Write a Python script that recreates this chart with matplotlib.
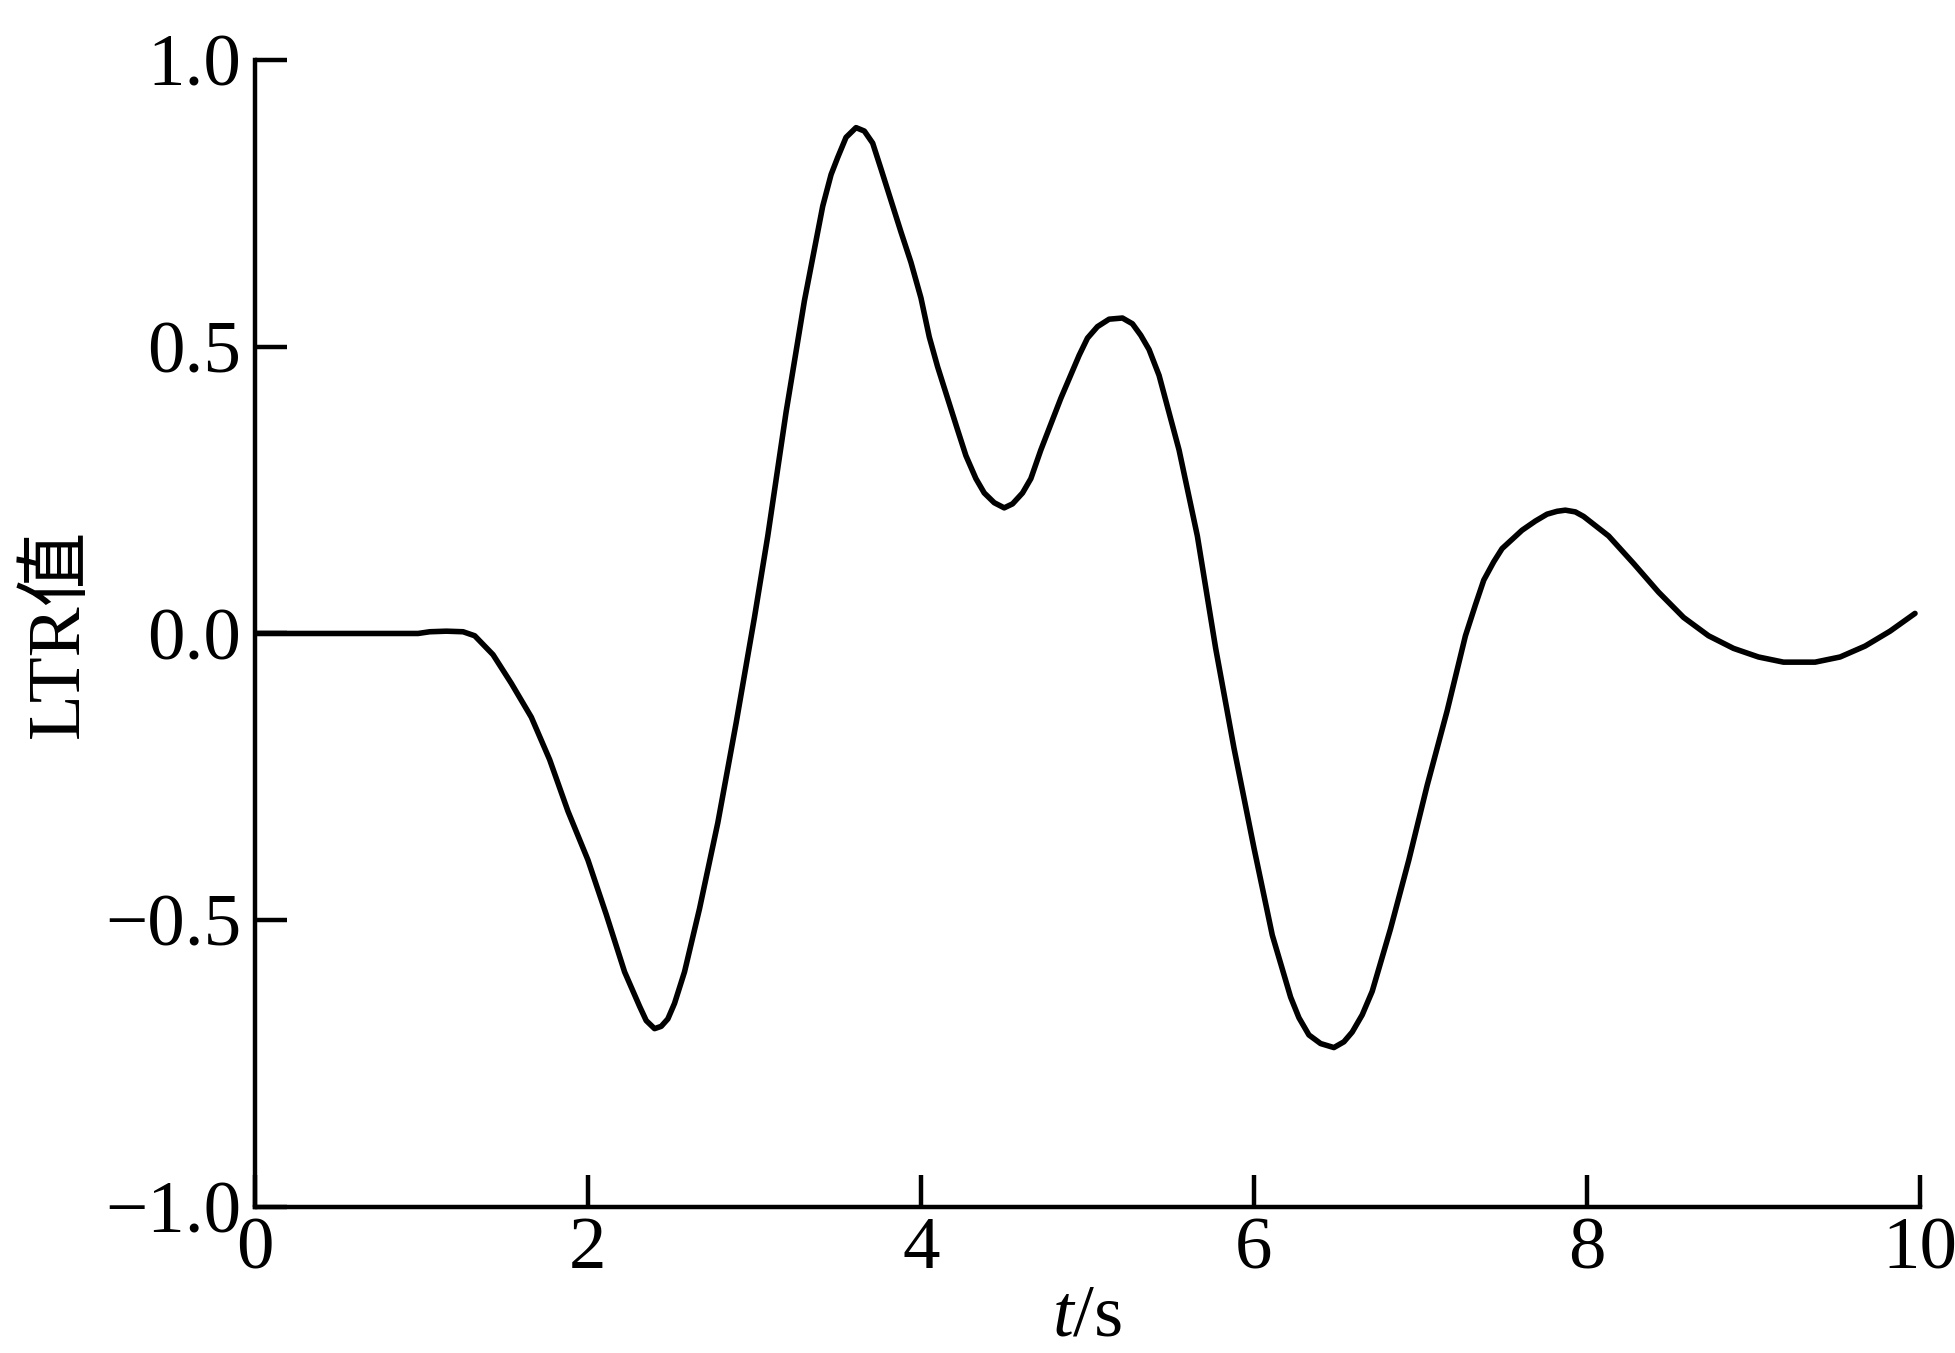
import matplotlib
matplotlib.use("Agg")
import matplotlib.pyplot as plt
import numpy as np

# Data (time in s, LTR value)
t_vals = [0.0, 0.5, 0.98, 1.05, 1.15, 1.25, 1.32, 1.43, 1.54, 1.66, 1.77, 1.88, 2.0, 2.11,
          2.22, 2.31, 2.35, 2.40, 2.44, 2.48, 2.52, 2.58, 2.67, 2.78, 2.89, 3.0, 3.08,
          3.19, 3.30, 3.41, 3.46, 3.5, 3.55, 3.61, 3.66, 3.71, 3.76, 3.82, 3.88, 3.94,
          4.0, 4.05, 4.10, 4.16, 4.22, 4.27, 4.33, 4.38, 4.44, 4.50, 4.55, 4.61, 4.66,
          4.72, 4.84, 4.95, 5.0, 5.06, 5.13, 5.21, 5.27, 5.32, 5.37, 5.43, 5.55, 5.66,
          5.77, 5.88, 6.0, 6.11, 6.22, 6.27, 6.33, 6.40, 6.48, 6.54, 6.59, 6.65, 6.71,
          6.82, 6.93, 7.04, 7.16, 7.27, 7.33, 7.38, 7.44, 7.49, 7.61, 7.69, 7.76, 7.82,
          7.87, 7.93, 7.98, 8.13, 8.28, 8.43, 8.58, 8.73, 8.88, 9.03, 9.18, 9.37, 9.52,
          9.67, 9.82, 9.97]
ltr_vals = [0.0, 0.0, 0.0, 0.003, 0.004, 0.003, -0.004, -0.037, -0.087, -0.146, -0.22, -0.31,
            -0.395, -0.49, -0.59, -0.65, -0.675, -0.689, -0.685, -0.672, -0.645, -0.59,
            -0.48, -0.33, -0.156, 0.028, 0.17, 0.386, 0.58, 0.745, 0.80, 0.83, 0.865,
            0.882, 0.876, 0.855, 0.81, 0.755, 0.70, 0.647, 0.585, 0.517, 0.465, 0.41,
            0.355, 0.31, 0.27, 0.245, 0.228, 0.219, 0.226, 0.245, 0.27, 0.32, 0.41,
            0.485, 0.515, 0.535, 0.548, 0.55, 0.54, 0.52, 0.495, 0.45, 0.32, 0.17,
            -0.026, -0.2, -0.374, -0.526, -0.634, -0.67, -0.70, -0.715, -0.722, -0.712,
            -0.695, -0.665, -0.624, -0.515, -0.395, -0.265, -0.135, -0.004, 0.05,
            0.093, 0.125, 0.148, 0.18, 0.196, 0.208, 0.213, 0.215, 0.212, 0.204, 0.17,
            0.122, 0.072, 0.028, -0.004, -0.026, -0.041, -0.05, -0.05, -0.041, -0.022,
            0.004, 0.035]

x_ticks = [0, 2, 4, 6, 8, 10]
y_ticks = [-1.0, -0.5, 0.0, 0.5, 1.0]
y_ticklabels = ["\u22121.0", "\u22120.5", "0.0", "0.5", "1.0"]

plt.rcParams['font.family'] = ['Liberation Serif', 'Noto Sans CJK SC']
plt.rcParams['mathtext.fontset'] = 'custom'
plt.rcParams['mathtext.rm'] = 'Liberation Serif'
plt.rcParams['mathtext.it'] = 'Liberation Serif:italic'

fig = plt.figure(figsize=(19.55, 13.53), dpi=100)
ax = fig.add_axes([0.1304, 0.1079, 0.9821 - 0.1304, 0.9557 - 0.1079])

ax.plot(t_vals, ltr_vals, color='black', linewidth=4.0,
        solid_joinstyle='round', solid_capstyle='round')

ax.set_xlim(0, 10)
ax.set_ylim(-1.0, 1.0)
ax.set_xticks(x_ticks)
ax.set_xticklabels([str(v) for v in x_ticks])
ax.set_yticks(y_ticks)
ax.set_yticklabels(y_ticklabels)

for s in ['top', 'right']:
    ax.spines[s].set_visible(False)
for s in ['left', 'bottom']:
    ax.spines[s].set_linewidth(3.2)

ax.tick_params(axis='both', direction='in', length=23, width=3.2, labelsize=54)
ax.tick_params(axis='y', pad=10)
ax.tick_params(axis='x', pad=7)

ax.set_xlabel(r'$t$/s', fontsize=54, labelpad=0)
ax.set_ylabel('LTR值', fontsize=54, family=['Liberation Serif', 'Noto Sans CJK SC'], labelpad=8)

fig.savefig('out.png', dpi=100)
